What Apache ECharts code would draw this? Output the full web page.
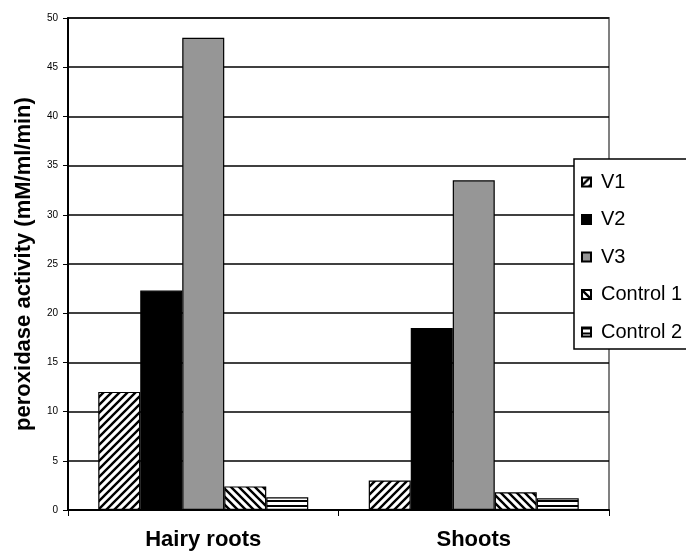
<!DOCTYPE html>
<html>
<head>
<meta charset="utf-8">
<script src="https://cdn.jsdelivr.net/npm/echarts@6/dist/echarts.min.js"></script>
<style>
html,body{margin:0;padding:0;background:#fff;}
#chart{width:686px;height:553px;}
</style>
</head>
<body>
<div id="chart"></div>
<script>
const categories = ['Hairy roots', 'Shoots'];
const seriesNames = ['V1', 'V2', 'V3', 'Control 1', 'Control 2'];
const V1 = [12.0, 3.0];
const V2 = [22.3, 18.5];
const V3 = [48.0, 33.5];
const Control1 = [2.4, 1.8];
const Control2 = [1.3, 1.2];
const yTicks = [0, 5, 10, 15, 20, 25, 30, 35, 40, 45, 50];

function makePattern(kind) {
  const c = document.createElement('canvas');
  const ctx = c.getContext('2d');
  if (kind === 'h') {
    c.width = 4; c.height = 5;
    ctx.fillStyle = '#fff'; ctx.fillRect(0, 0, 4, 5);
    ctx.fillStyle = '#000'; ctx.fillRect(0, 0, 4, 2);
  } else {
    const s = 8;
    c.width = s; c.height = s;
    ctx.fillStyle = '#fff'; ctx.fillRect(0, 0, s, s);
    ctx.strokeStyle = '#000'; ctx.lineWidth = 2.4;
    ctx.beginPath();
    if (kind === 'f') {
      for (let k = -1; k <= 1; k++) {
        ctx.moveTo(k * s - 1, s + 1); ctx.lineTo(k * s + s + 1, -1);
      }
    } else {
      for (let k = -1; k <= 1; k++) {
        ctx.moveTo(k * s - 1, -1); ctx.lineTo(k * s + s + 1, s + 1);
      }
    }
    ctx.stroke();
  }
  return { image: c, repeat: 'repeat' };
}

const colors = [makePattern('f'), '#000000', '#969696', makePattern('b'), makePattern('h')];
const dataSets = [V1, V2, V3, Control1, Control2];
const FONT = 'Liberation Sans, Arial, Helvetica, sans-serif';

const chart = echarts.init(document.getElementById('chart'));
chart.setOption({
  animation: false,
  backgroundColor: '#fff',
  grid: {
    left: 68, right: 77, top: 18, bottom: 43,
    show: true, borderColor: '#808080', borderWidth: 2, backgroundColor: 'transparent'
  },
  legend: {
    orient: 'vertical',
    left: 574, top: 159,
    icon: 'rect',
    itemWidth: 9, itemHeight: 9,
    itemGap: 17.5,
    padding: [13, 12, 7, 7],
    borderColor: '#000', borderWidth: 1.5,
    backgroundColor: '#fff',
    data: seriesNames,
    textStyle: { fontFamily: FONT, fontSize: 20, color: '#000', lineHeight: 20, padding: [0, 0, 0, 5] }
  },
  xAxis: {
    type: 'category',
    data: categories,
    axisLine: { lineStyle: { color: '#000', width: 2 } },
    axisTick: { show: true, length: 6, lineStyle: { color: '#000', width: 1 } },
    axisLabel: { fontFamily: FONT, fontSize: 22, fontWeight: 'bold', color: '#000', margin: 19 }
  },
  yAxis: {
    type: 'value',
    min: 0, max: 50, interval: 5,
    name: 'peroxidase activity (mM/ml/min)',
    nameLocation: 'middle',
    nameGap: 33,
    nameTextStyle: { fontFamily: FONT, fontSize: 22, fontWeight: 'bold', color: '#000' },
    axisLine: { show: true, lineStyle: { color: '#000', width: 2 } },
    axisTick: { show: true, length: 5, lineStyle: { color: '#000', width: 1 } },
    axisLabel: {
      fontFamily: FONT, fontSize: 10, color: '#000', margin: 10,
      formatter: v => (yTicks.indexOf(v) >= 0 ? String(v) : '')
    },
    splitLine: { show: true, lineStyle: { color: '#000', width: 1.5 } }
  },
  series: seriesNames.map((n, i) => ({
    name: n,
    type: 'bar',
    data: dataSets[i],
    barWidth: 42,
    barGap: '0%',
    itemStyle: { color: colors[i], borderColor: '#000', borderWidth: 1.2 }
  }))
});
</script>
</body>
</html>
